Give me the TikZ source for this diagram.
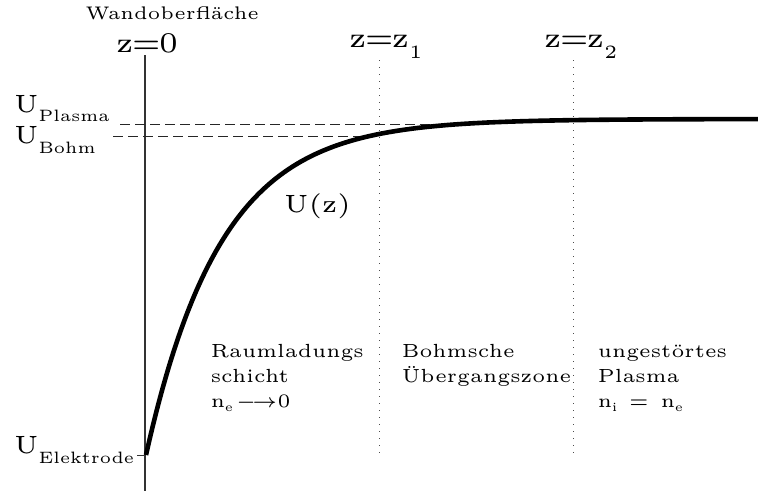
\documentclass[tikz,border=0pt]{standalone}
\usepackage{graphicx}
\newcommand{\sub}[2][1.8pt]{\raisebox{-#1}{\scalebox{0.66}{#2}}}
\newcommand{\eqk}{\kern-0.35pt=\kern-0.35pt}
\tikzset{
  base/.style={inner sep=0pt, anchor=base west, font=\fontsize{5}{6}\selectfont},
  txt/.style={base, scale=3.8},
  big/.style={base, scale=5},
  huge/.style={base, scale=5.7},
  axisline/.style={draw=black!80, line width=1.2pt},
  dashline/.style={draw=black!85, line width=0.9pt, dash pattern=on 10pt off 5pt},
  dotline/.style={draw=black!70, line width=1pt, dash pattern=on 1pt off 6pt},
  curve/.style={draw=black, line width=4.6pt}
}
\begin{document}
\begin{tikzpicture}[x=1pt, y=-1pt]
\useasboundingbox (0,0) rectangle (758,491);
% coordinates
\coordinate (axT) at (145,55);
\coordinate (axB) at (145,491);
\coordinate (tickL) at (137,455);
\coordinate (tickR) at (145,455);
\coordinate (plL) at (120,124);
\coordinate (plR) at (470,124);
\coordinate (boL) at (113,136);
\coordinate (boR) at (370,136);
\coordinate (d1T) at (379,60);
\coordinate (d1B) at (379,456);
\coordinate (d2T) at (573,60);
\coordinate (d2B) at (573,456);
% lines
\draw[axisline] (axT) -- (axB);
\draw[axisline, line width=1pt] (tickL) -- (tickR);
\draw[dashline] (plL) -- (plR);
\draw[dashline] (boL) -- (boR);
\draw[dotline] (d1T) -- (d1B);
\draw[dotline] (d2T) -- (d2B);
\draw[curve] plot[domain=146:758, samples=160, smooth] (\x, {119+336*exp(-(\x-146)/75)});
% labels
\node[base, scale=3.65] (wand) at (85,19) {Wandoberfläche};
\node[huge] (z0) at (115,52) {z\eqk0};
\node[huge] (z1) at (348,47) {z\eqk z\sub[2pt]{1}};
\node[huge] (z2) at (543,47) {z\eqk z\sub[2pt]{2}};
\node[big] (uplasma) at (13,112) {U\sub{Plasma}};
\node[big] (ubohm) at (13,143) {U\sub[2pt]{Bohm}};
\node[big] (uelek) at (13,453) {U\sub[2pt]{Elektrode}};
\node[big] (uz) at (283,212) {U(z)};
\node[txt] (r1) at (210,357) {Raumladungs};
\node[txt] (r2) at (210,382) {schicht};
\node[txt] (r3) at (210,407) {n\sub[1.2pt]{e}\,${\longrightarrow}$0};
\node[txt] (b1) at (401,357) {Bohmsche};
\node[txt] (b2) at (401,382) {Übergangszone};
\node[txt] (p1) at (597,357) {ungestörtes};
\node[txt] (p2) at (597,382) {Plasma};
\node[txt] (p3) at (597,407) {n\sub[1.2pt]{i} \,=\, n\sub[1.2pt]{e}};
\end{tikzpicture}
\end{document}
